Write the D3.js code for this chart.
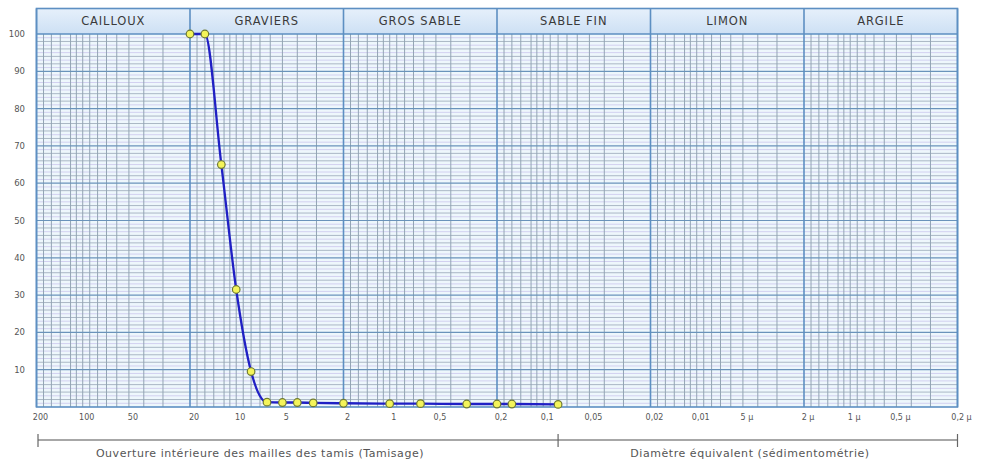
<!DOCTYPE html>
<html lang="fr">
<head>
<meta charset="utf-8">
<title>Courbe granulométrique</title>
<style>
body { margin: 0; background: #fff; font-family: "DejaVu Sans", Verdana, sans-serif; }
.band { font-size: 11.5px; letter-spacing: 0.9px; fill: #3a3a3a; text-anchor: middle; }
.tick-y { font-size: 8.5px; fill: #555; text-anchor: end; }
.tick-x { font-size: 8px; fill: #555; text-anchor: middle; }
.caption { font-size: 11px; letter-spacing: 0.55px; fill: #555; text-anchor: middle; }
</style>
</head>
<body>
<script src="https://cdn.jsdelivr.net/npm/d3@7"></script>
<script>

// sieve openings (mm) and cumulative passing (%)
var sieves  = [20, 16, 12.5, 10, 8, 6.3, 5, 4, 3.15, 2, 1, 0.63, 0.315, 0.2, 0.16, 0.08];
var passing = [100, 100, 65, 31.5, 9.5, 1.3, 1.2, 1.2, 1.1, 1.0, 0.9, 0.9, 0.8, 0.8, 0.8, 0.7];

// soil classes, with the decade limits between them (mm)
var bands      = ["CAILLOUX", "GRAVIERS", "GROS SABLE", "SABLE FIN", "LIMON", "ARGILE"];
var bandLimits = [200, 20, 2, 0.2, 0.02, 0.002, 0.0002];

// x tick labels
var xTicks  = [200, 100, 50, 20, 10, 5, 2, 1, 0.5, 0.2, 0.1, 0.05, 0.02, 0.01, 0.005, 0.002, 0.001, 0.0005, 0.0002];
var xLabels = ["200", "100", "50", "20", "10", "5", "2", "1", "0,5", "0,2", "0,1", "0,05", "0,02", "0,01", "5 \u00b5", "2 \u00b5", "1 \u00b5", "0,5 \u00b5", "0,2 \u00b5"];
var yTicks  = [100, 90, 80, 70, 60, 50, 40, 30, 20, 10];

// minor grid multipliers inside a decade
var minorMult = [1, 1.1, 1.2, 1.4, 1.6, 1.8, 3, 4, 5, 6, 7, 8, 9];

// where the two measuring methods split, and their captions
var methodLimits = [200, 0.08, 0.0002];
var captions = ["Ouverture int\u00e9rieure des mailles des tamis (Tamisage)", "Diam\u00e8tre \u00e9quivalent (s\u00e9dimentom\u00e9trie)"];

var W = 983, H = 464;
var pLeft = 36.5, pRight = 957.5, pTop = 34, pBottom = 407, headTop = 8.5;

var x = d3.scaleLog().domain([200, 0.0002]).range([pLeft, pRight]);
var y = d3.scaleLinear().domain([0, 100]).range([pBottom, pTop]);

var svg = d3.select("body").append("svg")
    .attr("width", W)
    .attr("height", H);

// plot background
svg.append("rect")
    .attr("x", pLeft).attr("y", pTop)
    .attr("width", pRight - pLeft).attr("height", pBottom - pTop)
    .attr("fill", "#eef7fc");

// header gradient
var grad = svg.append("defs").append("linearGradient")
    .attr("id", "hd").attr("x1", 0).attr("y1", 0).attr("x2", 0).attr("y2", 1);
grad.append("stop").attr("offset", "0%").attr("stop-color", "#e6f0fb");
grad.append("stop").attr("offset", "100%").attr("stop-color", "#cde0f4");

svg.append("rect")
    .attr("x", pLeft).attr("y", headTop)
    .attr("width", pRight - pLeft).attr("height", pTop - headTop)
    .attr("fill", "url(#hd)");

// horizontal grid, one line per percent
var hLines = d3.range(1, 100);
svg.append("g").selectAll("line")
    .data(hLines.filter(function(v) { return v % 10 != 0; }))
    .join("line")
    .attr("x1", pLeft).attr("x2", pRight)
    .attr("y1", function(d) { return y(d); })
    .attr("y2", function(d) { return y(d); })
    .attr("stroke", function(d) { return d % 2 == 0 ? "#aab7c5" : "#d2d0f0"; })
    .attr("stroke-width", 1);

// vertical minor grid
var minors = [];
for (var k = -4; k <= 2; k++) {
    minorMult.forEach(function(m) {
        var v = m * Math.pow(10, k);
        if (v < 200 && v > 0.0002) minors.push(v);
    });
}
svg.append("g").selectAll("line")
    .data(minors)
    .join("line")
    .attr("x1", function(d) { return x(d); })
    .attr("x2", function(d) { return x(d); })
    .attr("y1", pTop).attr("y2", pBottom)
    .attr("stroke", "#93a4b4")
    .attr("stroke-width", 1);

// major horizontal lines
svg.append("g").selectAll("line")
    .data(yTicks.slice(1))
    .join("line")
    .attr("x1", pLeft).attr("x2", pRight)
    .attr("y1", function(d) { return y(d); })
    .attr("y2", function(d) { return y(d); })
    .attr("stroke", "#6a93bb")
    .attr("stroke-width", 1.2);

// decade / band limits
svg.append("g").selectAll("line")
    .data(bandLimits)
    .join("line")
    .attr("x1", function(d) { return x(d); })
    .attr("x2", function(d) { return x(d); })
    .attr("y1", headTop).attr("y2", pBottom)
    .attr("stroke", "#5d8fc2")
    .attr("stroke-width", 1.6);

// outer frame
svg.append("rect")
    .attr("x", pLeft).attr("y", headTop)
    .attr("width", pRight - pLeft).attr("height", pBottom - headTop)
    .attr("fill", "none")
    .attr("stroke", "#5d8fc2")
    .attr("stroke-width", 1.6);
svg.append("line")
    .attr("x1", pLeft).attr("x2", pRight)
    .attr("y1", pTop).attr("y2", pTop)
    .attr("stroke", "#5d8fc2")
    .attr("stroke-width", 1.6);

// band names
svg.append("g").selectAll("text")
    .data(bands)
    .join("text")
    .attr("class", "band")
    .attr("x", function(d, i) { return (x(bandLimits[i]) + x(bandLimits[i + 1])) / 2; })
    .attr("y", 25)
    .text(function(d) { return d; });

// y labels
svg.append("g").selectAll("text")
    .data(yTicks)
    .join("text")
    .attr("class", "tick-y")
    .attr("x", 25)
    .attr("y", function(d) { return y(d) + 3; })
    .text(function(d) { return d; });

// x labels
svg.append("g").selectAll("text")
    .data(xTicks)
    .join("text")
    .attr("class", "tick-x")
    .attr("x", function(d) { return x(d) + 4; })
    .attr("y", 420)
    .text(function(d, i) { return xLabels[i]; });

// bracket for the two methods
svg.append("line")
    .attr("x1", x(methodLimits[0]) + 1.5).attr("x2", x(methodLimits[2]))
    .attr("y1", 440).attr("y2", 440)
    .attr("stroke", "#8a8a8a")
    .attr("stroke-width", 1.6);
svg.append("g").selectAll("line")
    .data(methodLimits)
    .join("line")
    .attr("x1", function(d, i) { return x(d) + (i == 0 ? 1.5 : 0); })
    .attr("x2", function(d, i) { return x(d) + (i == 0 ? 1.5 : 0); })
    .attr("y1", 434).attr("y2", 447)
    .attr("stroke", "#666")
    .attr("stroke-width", 1.2);

svg.append("text").attr("class", "caption").attr("x", 260).attr("y", 457).text(captions[0]);
svg.append("text").attr("class", "caption").attr("x", 750).attr("y", 457).text(captions[1]);

// grading curve
var pts = sieves.map(function(d, i) { return [x(d), y(passing[i])]; });

var curve = d3.line().curve(d3.curveMonotoneX);

svg.append("path")
    .attr("d", curve(pts))
    .attr("fill", "none")
    .attr("stroke", "#2020c4")
    .attr("stroke-width", 2.3);

svg.append("g").selectAll("circle")
    .data(pts)
    .join("circle")
    .attr("cx", function(d) { return d[0]; })
    .attr("cy", function(d) { return d[1]; })
    .attr("r", 3.8)
    .attr("fill", "#f4f45a")
    .attr("stroke", "#6f7a33")
    .attr("stroke-width", 1.2);

</script>
</body>
</html>
